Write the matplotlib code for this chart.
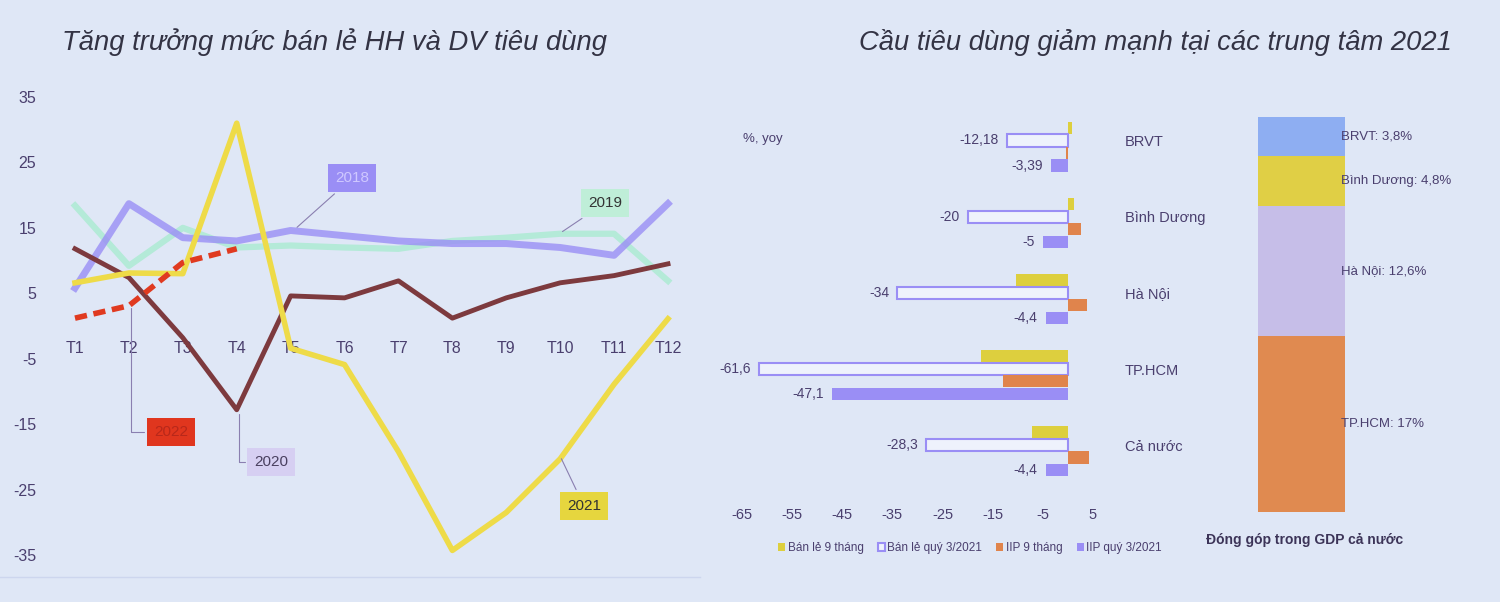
import matplotlib
matplotlib.use('Agg')
import matplotlib.pyplot as plt

# ---- data: left chart (retail sales growth, % yoy) ----
months = ['T1', 'T2', 'T3', 'T4', 'T5', 'T6', 'T7', 'T8', 'T9', 'T10', 'T11', 'T12']
s2018 = [5.8, 18.7, 13.5, 13.0, 14.6, 13.8, 13.0, 12.6, 12.6, 12.0, 10.8, 18.7]
s2019 = [18.4, 9.2, 15.0, 12.0, 12.3, 12.0, 11.8, 13.0, 13.5, 14.1, 14.1, 6.9]
s2020 = [11.8, 7.4, -1.8, -12.8, 4.6, 4.3, 6.9, 1.2, 4.3, 6.6, 7.7, 9.5]
s2021 = [6.6, 8.1, 8.0, 31.0, -3.4, -5.9, -19.2, -34.3, -28.5, -20.3, -8.9, 1.1]
s2022 = [1.2, 3.1, 9.7, 11.8]
yticks_left = [-35, -25, -15, -5, 5, 15, 25, 35]

# ---- data: right bar chart ----
regions = ['BRVT', 'Bình Dương', 'Hà Nội', 'TP.HCM', 'Cả nước']
retail_9m = [0.8, 1.2, -10.4, -17.4, -7.2]
retail_q3 = [-12.18, -20, -34, -61.6, -28.3]
iip_9m = [-0.4, 2.6, 3.8, -13.0, 4.2]
iip_q3 = [-3.39, -5, -4.4, -47.1, -4.4]
retail_q3_lbl = ['-12,18', '-20', '-34', '-61,6', '-28,3']
iip_q3_lbl = ['-3,39', '-5', '-4,4', '-47,1', '-4,4']
xticks_right = [-65, -55, -45, -35, -25, -15, -5, 5]

# ---- data: GDP share ----
gdp_regions = ['TP.HCM', 'Hà Nội', 'Bình Dương', 'BRVT']
gdp_share = [17, 12.6, 4.8, 3.8]
gdp_lbl = ['TP.HCM: 17%', 'Hà Nội: 12,6%', 'Bình Dương: 4,8%', 'BRVT: 3,8%']

FONT = ['Liberation Sans', 'DejaVu Sans']
TXT = '#4a3f6e'
BG = '#dfe7f6'
C18, C19, C20, C21, C22 = '#9a8ef5', '#b4ead8', '#7d3a3e', '#eedb48', '#e03a20'
YEL, ORA, PUR = '#ddcf3e', '#e0844c', '#9a8ef5'

fig = plt.figure(figsize=(15, 6.02), dpi=100, facecolor=BG)

fig.text(62/1500, 1-42/602, 'Tăng trưởng mức bán lẻ HH và DV tiêu dùng',
         ha='left', va='center', fontsize=19.7, style='italic',
         family=FONT, color='#333344')
fig.text(1452/1500, 1-42/602, 'Cầu tiêu dùng giảm mạnh tại các trung tâm 2021',
         ha='right', va='center', fontsize=19.7, style='italic',
         family=FONT, color='#333344')

# ---------------- left: line chart ----------------
ax = fig.add_axes([75/1500, (602-555)/602, 593/1500, 458/602])
ax.set_facecolor('none')
x = list(range(1, 13))
ax.plot(x, s2019, color=C19, lw=4.5, solid_joinstyle='round', clip_on=False)
ax.plot(x, s2018, color=C18, lw=5, alpha=0.8, solid_joinstyle='round', clip_on=False)
ax.plot(x, s2020, color=C20, lw=3.5, solid_joinstyle='round', clip_on=False)
ax.plot(x, s2021, color=C21, lw=4, solid_joinstyle='round', clip_on=False)
ax.plot(x[:len(s2022)], s2022, color=C22, lw=4, ls=(0, (2.2, 1.2)), clip_on=False)
ax.set_xlim(1, 12)
ax.set_ylim(-35, 35)
ax.set_yticks(yticks_left)
ax.set_yticklabels([str(v) for v in yticks_left])
ax.set_xticks(x)
ax.set_xticklabels(months)
for s in ax.spines.values():
    s.set_visible(False)
ax.spines['bottom'].set_position(('data', 0))
ax.tick_params(axis='y', length=0, pad=28, labelsize=11.5, labelcolor=TXT)
ax.tick_params(axis='x', length=0, pad=11, labelsize=11.5, labelcolor=TXT)
for lab in ax.get_xticklabels() + ax.get_yticklabels():
    lab.set_family(FONT)

lead = dict(arrowstyle='-', color='#8a7fb0', lw=0.8)
def tag(text, xy, xyt, fc, tc, conn='arc3'):
    ax.annotate(text, xy=xy, xytext=xyt, ha='center', va='center',
                fontsize=11, family=FONT, color=tc,
                bbox=dict(boxstyle='square,pad=0.45', fc=fc, ec='none'),
                arrowprops=dict(lead, connectionstyle=conn), annotation_clip=False)

tag('2018', (5.08, 14.8), (6.14, 22.6), C18, '#cfc8ff')
tag('2019', (10.0, 14.2), (10.83, 18.8), '#bfeed8', '#333333')
tag('2022', (2.04, 3.1), (2.78, -16.2), '#e0361e', '#b8281a',
    'angle,angleA=0,angleB=90,rad=0')
tag('2020', (4.04, -13.0), (4.64, -20.8), '#d6cff2', '#4a4060',
    'angle,angleA=0,angleB=90,rad=0')
tag('2021', (10.0, -19.9), (10.44, -27.5), '#e6d63e', '#333333')

fig.add_artist(plt.Line2D([0, 700/1500], [1-577/602]*2, color='#cdd6ee', lw=1))

# ---------------- middle: horizontal bars ----------------
bx = fig.add_axes([742/1500, (602-497)/602, 351/1500, 396/602])
bx.set_facecolor('none')
yc = list(range(len(regions)))
h = 0.16
off = [-0.247, -0.082, 0.082, 0.247]
bx.barh([y + off[0] for y in yc], retail_9m, height=h, color=YEL, label='Bán lẻ 9 tháng')
bx.barh([y + off[1] for y in yc], retail_q3, height=h, color='#eef2fc', edgecolor=PUR,
        lw=1.5, label='Bán lẻ quý 3/2021')
bx.barh([y + off[2] for y in yc], iip_9m, height=h, color=ORA, label='IIP 9 tháng')
bx.barh([y + off[3] for y in yc], iip_q3, height=h, color=PUR, label='IIP quý 3/2021')
for i in yc:
    bx.annotate(retail_q3_lbl[i], (retail_q3[i], i + off[1]), xytext=(-6, 0),
                textcoords='offset points', ha='right', va='center',
                fontsize=10, family=FONT, color=TXT, annotation_clip=False)
    bx.annotate(iip_q3_lbl[i], (iip_q3[i], i + off[3]), xytext=(-6, 0),
                textcoords='offset points', ha='right', va='center',
                fontsize=10, family=FONT, color=TXT, annotation_clip=False)
bx.set_xlim(-65, 5)
bx.set_ylim(4.6, -0.6)
bx.set_xticks(xticks_right)
bx.set_xticklabels([str(v) for v in xticks_right])
bx.set_yticks([y - 0.08 for y in yc])
bx.set_yticklabels(regions)
bx.yaxis.tick_right()
for s in bx.spines.values():
    s.set_visible(False)
bx.tick_params(axis='x', length=0, pad=8, labelsize=10.5, labelcolor=TXT)
bx.tick_params(axis='y', length=0, pad=23, labelsize=10.5, labelcolor=TXT)
for lab in bx.get_xticklabels() + bx.get_yticklabels():
    lab.set_family(FONT)
bx.text(-64.8, -0.1, '%, yoy', ha='left', va='center', fontsize=9.5,
        family=FONT, color=TXT)

handles, labels = bx.get_legend_handles_labels()
fig.legend(handles, labels, loc='center', bbox_to_anchor=(970/1500, 1-548/602),
           ncol=4, frameon=False, handlelength=0.6, handleheight=0.6,
           handletextpad=0.2, columnspacing=1.2,
           prop=dict(family=FONT, size=8.5), labelcolor=TXT)

# ---------------- right: GDP share stacked bar ----------------
gx = fig.add_axes([1258/1500, (602-512)/602, 87/1500, 395/602])
gx.set_facecolor('none')
gcol = ['#e08a50', '#c6bee8', '#e0cf45', '#8eaef2']
bottom = 0
for name, v, c, lb in zip(gdp_regions, gdp_share, gcol, gdp_lbl):
    gx.bar(0, v, width=1.0, bottom=bottom, color=c)
    gx.text(0.45, bottom + v / 2, lb, ha='left', va='center', fontsize=9.5,
            family=FONT, color=TXT)
    bottom += v
gx.set_xlim(-0.5, 0.5)
gx.set_ylim(0, sum(gdp_share))
gx.axis('off')
fig.text(1305/1500, 1-540/602, 'Đóng góp trong GDP cả nước', ha='center', va='center',
         fontsize=10, fontweight='bold', family=FONT, color='#3c3458')

fig.savefig('out.png', dpi=100, facecolor=BG)
